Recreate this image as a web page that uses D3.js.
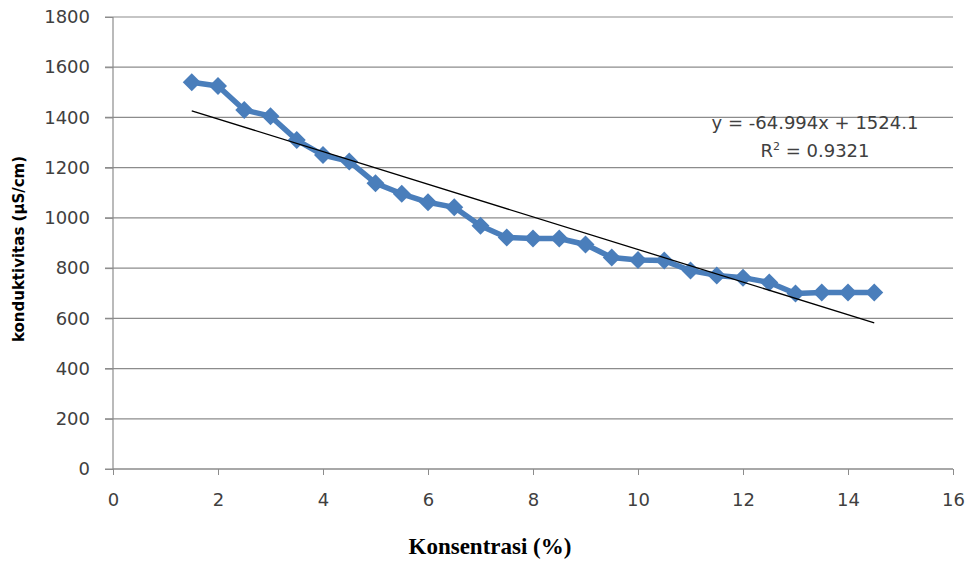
<!DOCTYPE html>
<html>
<head>
<meta charset="utf-8">
<script src="https://cdn.jsdelivr.net/npm/d3@7"></script>
<style>
  body { margin: 0; background: #fff; }
</style>
</head>
<body>
<svg id="chart" width="973" height="563"></svg>
<script>
"use strict";

// konsentrasi (%) vs konduktivitas (uS/cm)
const konsentrasi = [1.5, 2, 2.5, 3, 3.5, 4, 4.5, 5, 5.5, 6, 6.5, 7, 7.5, 8, 8.5,
                     9, 9.5, 10, 10.5, 11, 11.5, 12, 12.5, 13, 13.5, 14, 14.5];
const konduktivitas = [1540, 1525, 1430, 1405, 1310, 1250, 1225, 1138, 1096, 1062, 1042,
                       969, 922, 918, 918, 894, 842, 832, 830, 790, 771, 762, 743, 699, 703, 703, 703];
const xTicks = [0, 2, 4, 6, 8, 10, 12, 14, 16];
const yTicks = [0, 200, 400, 600, 800, 1000, 1200, 1400, 1600, 1800];
const slope = -64.994;
const intercept = 1524.1;
const rSquared = "0.9321";

const svg = d3.select("#chart");

const x = d3.scaleLinear().domain([0, 16]).range([113, 953]);
const y = d3.scaleLinear().domain([0, 1800]).range([469, 17]);

const tickFont = "DejaVu Sans, sans-serif";

// gridlines
svg.append("g")
  .selectAll("line")
  .data(yTicks)
  .enter().append("line")
  .attr("x1", x(0) - 8)
  .attr("x2", x(16))
  .attr("y1", d => y(d))
  .attr("y2", d => y(d))
  .attr("stroke", "#8c8c8c")
  .attr("stroke-width", 1.2);

// y axis
let yAxis = svg.append("g")
  .attr("transform", `translate(${x(0)},0)`)
  .call(d3.axisLeft(y).tickValues(yTicks).tickFormat(d3.format("d")).tickSize(8).tickPadding(15));
yAxis.selectAll("line").attr("stroke", "#8c8c8c");
yAxis.select(".domain").attr("stroke", "#8c8c8c").attr("stroke-width", 1.2).attr("d", `M0,${y(0)}V${y(1800)}`);
yAxis.selectAll("text")
  .attr("font-family", tickFont)
  .attr("font-size", 18)
  .attr("fill", "#404040");

// x axis
let xAxis = svg.append("g")
  .attr("transform", `translate(0,${y(0)})`)
  .call(d3.axisBottom(x).tickValues(xTicks).tickFormat(d3.format("d")).tickSize(6).tickPadding(18));
xAxis.selectAll("line").attr("stroke", "#8c8c8c");
xAxis.select(".domain").attr("stroke", "#8c8c8c").attr("stroke-width", 1.2).attr("d", `M${x(0)},0H${x(16)}`);
xAxis.selectAll("text")
  .attr("font-family", tickFont)
  .attr("font-size", 18)
  .attr("fill", "#404040");

// data line
let line = d3.line()
  .x((d, i) => x(konsentrasi[i]))
  .y(d => y(d));
svg.append("path")
  .datum(konduktivitas)
  .attr("d", line)
  .attr("fill", "none")
  .attr("stroke", "#4a7ebb")
  .attr("stroke-width", 5.5)
  .attr("stroke-linejoin", "round");

// diamond markers
svg.append("g")
  .selectAll("path")
  .data(konduktivitas)
  .enter().append("path")
  .attr("transform", (d, i) => `translate(${x(konsentrasi[i])},${y(d)})`)
  .attr("d", "M0,-9L9,0L0,9L-9,0Z")
  .attr("fill", "#4a7ebb");

// linear trendline
let x0 = konsentrasi[0], x1 = konsentrasi[konsentrasi.length - 1];
svg.append("line")
  .attr("x1", x(x0))
  .attr("y1", y(slope * x0 + intercept))
  .attr("x2", x(x1))
  .attr("y2", y(slope * x1 + intercept))
  .attr("stroke", "#000")
  .attr("stroke-width", 1.3);

// equation label
svg.append("text")
  .attr("x", 815)
  .attr("y", 129)
  .attr("text-anchor", "middle")
  .attr("font-family", tickFont)
  .attr("font-size", 18)
  .attr("fill", "#404040")
  .text(`y = ${slope}x + ${intercept}`);

let r2 = svg.append("text")
  .attr("x", 815)
  .attr("y", 157)
  .attr("text-anchor", "middle")
  .attr("font-family", tickFont)
  .attr("font-size", 18)
  .attr("fill", "#404040");
r2.append("tspan").text("R");
r2.append("tspan").attr("dy", -7).attr("font-size", 11).text("2");
r2.append("tspan").attr("dy", 7).text(` = ${rSquared}`);

// axis titles
svg.append("text")
  .attr("transform", "translate(24,249) rotate(-90)")
  .attr("text-anchor", "middle")
  .attr("font-family", tickFont)
  .attr("font-weight", "bold")
  .attr("font-size", 15)
  .attr("fill", "#000")
  .text("konduktivitas  (µS/cm)");

svg.append("text")
  .attr("x", 490)
  .attr("y", 554)
  .attr("text-anchor", "middle")
  .attr("font-family", "Liberation Serif, serif")
  .attr("font-weight", "bold")
  .attr("font-size", 23)
  .attr("fill", "#000")
  .text("Konsentrasi (%)");
</script>
</body>
</html>
